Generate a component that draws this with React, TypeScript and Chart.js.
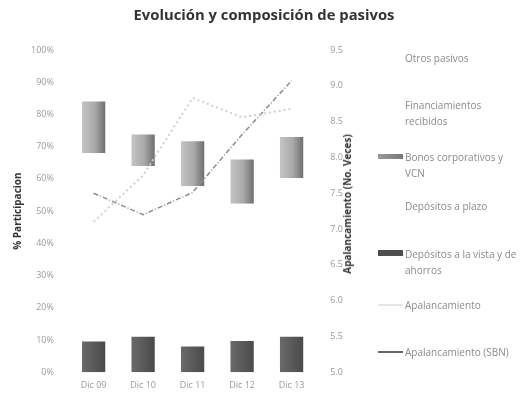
import React, { useEffect, useRef } from "react";
import { Chart, registerables } from "chart.js";

Chart.register(...registerables);

const categories = ["Dic 09", "Dic 10", "Dic 11", "Dic 12", "Dic 13"];
const depositosVista = [9.5, 11, 8, 9.7, 11];
const depositosPlazo = [58.5, 53, 49.7, 42.6, 49.3];
const bonosVCN = [16, 9.8, 14, 13.7, 12.7];
const financiamientos = [10, 18, 20, 25, 19];
const otrosPasivos = [6.5, 8.2, 8.3, 9, 8];
const apalancamiento = [7.1, 7.75, 8.83, 8.56, 8.68];
const apalancamientoSBN = [7.5, 7.2, 7.51, 8.32, 9.07];
const leftTicks = [0, 10, 20, 30, 40, 50, 60, 70, 80, 90, 100];
const rightTicks = [5.0, 5.5, 6.0, 6.5, 7.0, 7.5, 8.0, 8.5, 9.0, 9.5];

const BAR_PCT = 0.47;

function hGrad(stops: [number, string][]) {
  return (ctx: any) => {
    const chart = ctx.chart;
    const xs = chart.scales?.x;
    if (!xs || ctx.dataIndex == null || !xs.width) return stops[1][1];
    const cx = xs.getPixelForValue(ctx.dataIndex);
    const w = (xs.width / categories.length) * BAR_PCT;
    const g = chart.ctx.createLinearGradient(cx - w / 2, 0, cx + w / 2, 0);
    stops.forEach(([o, c]) => g.addColorStop(o, c));
    return g;
  };
}

const legendItems = [
  { label: "Otros pasivos", kind: "none", y: 58 },
  { label: "Financiamientos\nrecibidos", kind: "none", y: 105 },
  { label: "Bonos corporativos y\nVCN", kind: "bonos", y: 157 },
  { label: "Depósitos a plazo", kind: "none", y: 206 },
  { label: "Depósitos a la vista y de\nahorros", kind: "vista", y: 254 },
  { label: "Apalancamiento", kind: "light", y: 305 },
  { label: "Apalancamiento (SBN)", kind: "sbn", y: 352 },
];

export default function App() {
  const ref = useRef<HTMLCanvasElement | null>(null);

  useEffect(() => {
    if (!ref.current) return;
    const tickFont = { family: "'Open Sans', sans-serif", size: 9 };
    const chart = new Chart(ref.current, {
      type: "bar",
      data: {
        labels: categories,
        datasets: [
          {
            type: "line",
            label: "Apalancamiento",
            data: apalancamiento,
            yAxisID: "y1",
            borderColor: "#cfcfcf",
            borderWidth: 2,
            borderDash: [2, 3],
            pointRadius: 0,
            fill: false,
            order: 0,
          },
          {
            type: "line",
            label: "Apalancamiento (SBN)",
            data: apalancamientoSBN,
            yAxisID: "y1",
            borderColor: "#8c8c8c",
            borderWidth: 1.5,
            borderDash: [5, 2, 1, 2],
            pointRadius: 0,
            fill: false,
            order: 0,
          },
          {
            label: "Depósitos a la vista y de ahorros",
            data: depositosVista,
            backgroundColor: hGrad([[0, "#6a6a6a"], [0.5, "#5a5a5a"], [1, "#4a4a4a"]]),
            stack: "s",
            order: 1,
          },
          {
            label: "Depósitos a plazo",
            data: depositosPlazo,
            backgroundColor: "#ffffff",
            stack: "s",
            order: 1,
          },
          {
            label: "Bonos corporativos y VCN",
            data: bonosVCN,
            backgroundColor: hGrad([[0, "#c4c4c4"], [0.55, "#a9a9a9"], [1, "#6e6e6e"]]),
            stack: "s",
            order: 1,
          },
          {
            label: "Financiamientos recibidos",
            data: financiamientos,
            backgroundColor: "#ffffff",
            stack: "s",
            order: 1,
          },
          {
            label: "Otros pasivos",
            data: otrosPasivos,
            backgroundColor: "#ffffff",
            stack: "s",
            order: 1,
          },
        ],
      },
      options: {
        responsive: true,
        maintainAspectRatio: false,
        animation: false,
        datasets: { bar: { barPercentage: BAR_PCT, categoryPercentage: 1 } },
        layout: { padding: { left: 4, right: 171, top: 42, bottom: 0 } },
        plugins: {
          legend: { display: false },
          tooltip: { enabled: false },
        },
        scales: {
          x: {
            stacked: true,
            grid: { display: false },
            border: { display: false },
            ticks: { color: "#9a9a9a", font: tickFont, padding: 0 },
          },
          y: {
            stacked: true,
            min: 0,
            max: 100,
            afterBuildTicks: (s: any) => {
              s.ticks = leftTicks.map((v) => ({ value: v }));
            },
            grid: { display: false },
            border: { display: false },
            ticks: {
              color: "#9a9a9a",
              font: tickFont,
              padding: 7,
              callback: (v: any) => v + "%",
            },
            title: {
              display: true,
              text: "% Participacion",
              color: "#333333",
              font: { family: "'Open Sans', sans-serif", size: 10, weight: "bold" },
              padding: { top: 0, bottom: 0 },
            },
          },
          y1: {
            position: "right",
            min: 5,
            max: 9.5,
            afterBuildTicks: (s: any) => {
              s.ticks = rightTicks.map((v) => ({ value: v }));
            },
            grid: { display: false },
            border: { display: false },
            ticks: {
              color: "#9a9a9a",
              font: tickFont,
              padding: 6,
              callback: (v: any) => Number(v).toFixed(1),
            },
          },
        },
      },
    });
    return () => chart.destroy();
  }, []);

  const swatch = (kind: string) => {
    const base: React.CSSProperties = { position: "absolute", left: 378 - 8, width: 25 };
    if (kind === "bonos")
      return <div style={{ ...base, top: 5, height: 5, background: "linear-gradient(90deg,#9a9a9a,#777)" }} />;
    if (kind === "vista")
      return <div style={{ ...base, top: 4, height: 6, background: "#4e4e4e" }} />;
    if (kind === "light")
      return <div style={{ ...base, top: 7, height: 2, background: "#e6e6e6" }} />;
    if (kind === "sbn")
      return <div style={{ ...base, top: 7, height: 1.5, background: "#666" }} />;
    return null;
  };

  return (
    <div style={{ position: "relative", width: 512, height: 383 }}>
      <canvas ref={ref} />
      <div
        style={{
          position: "absolute",
          left: 0,
          top: -2,
          width: 512,
          textAlign: "center",
          fontFamily: "'Open Sans', sans-serif",
          fontWeight: "bold",
          fontSize: 14.8,
          lineHeight: "16px",
          color: "#333",
        }}
      >
        Evolución y composición de pasivos
      </div>
      <div
        style={{
          position: "absolute",
          left: 347 - 8,
          top: 204 - 8,
          transform: "translate(-50%,-50%) rotate(-90deg)",
          whiteSpace: "nowrap",
          fontFamily: "'Open Sans', sans-serif",
          fontWeight: "bold",
          fontSize: 10,
          color: "#333",
        }}
      >
        Apalancamiento (No. Veces)
      </div>
      {legendItems.map((it) => (
        <div
          key={it.label}
          style={{ position: "absolute", left: 0, top: it.y - 8 - 8, width: 512, height: 16 }}
        >
          {swatch(it.kind)}
          <div
            style={{
              position: "absolute",
              left: 405 - 8,
              width: 140,
              top: 0,
              whiteSpace: "pre-line",
              fontFamily: "'Open Sans', sans-serif",
              fontSize: 10,
              lineHeight: "16px",
              color: "#8a8a8a",
            }}
          >
            {it.label}
          </div>
        </div>
      ))}
    </div>
  );
}
